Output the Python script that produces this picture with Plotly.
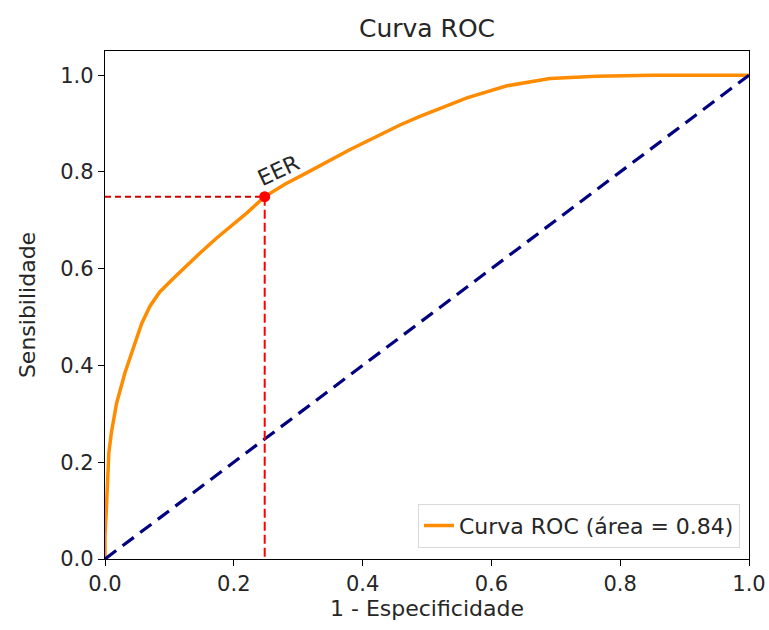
import plotly.graph_objects as go

# ROC curve
fpr = [0.0, 0.0, 0.002, 0.004, 0.006, 0.010, 0.018, 0.031, 0.044, 0.057, 0.070, 0.085,
       0.106, 0.127, 0.148, 0.173, 0.191, 0.220, 0.248, 0.280, 0.313, 0.380, 0.458,
       0.489, 0.562, 0.624, 0.691, 0.763, 0.85, 0.93, 1.0]
tpr = [0.0, 0.05, 0.10, 0.17, 0.22, 0.262, 0.322, 0.385, 0.439, 0.487, 0.523, 0.552,
       0.580, 0.607, 0.633, 0.663, 0.683, 0.715, 0.749, 0.775, 0.798, 0.846, 0.897,
       0.915, 0.953, 0.978, 0.993, 0.998, 1.0, 1.0, 1.0]
diag_x = [0.0, 1.0]
diag_y = [0.0, 1.0]
eer_x = 0.248
eer_y = 0.749
roc_auc = 0.84

title_text = "Curva ROC"
x_label = "1 - Especificidade"
y_label = "Sensibilidade"
tick_vals = [0.0, 0.2, 0.4, 0.6, 0.8, 1.0]

FONT = "DejaVu Sans"
TXT = "#262626"

fig = go.Figure()
fig.add_trace(go.Scatter(x=fpr, y=tpr, mode="lines",
                         line=dict(color="darkorange", width=3.5),
                         name=f"Curva ROC (área = {roc_auc:.2f})"))
fig.add_trace(go.Scatter(x=diag_x, y=diag_y, mode="lines",
                         line=dict(color="navy", width=3.2, dash="14px,8px"),
                         showlegend=False))
fig.add_trace(go.Scatter(x=[0, eer_x], y=[eer_y, eer_y], mode="lines",
                         line=dict(color="#d40000", width=2, dash="6px,4px"),
                         showlegend=False))
fig.add_trace(go.Scatter(x=[eer_x, eer_x], y=[eer_y, 0], mode="lines",
                         line=dict(color="red", width=2, dash="9px,4px"),
                         showlegend=False))
fig.add_trace(go.Scatter(x=[eer_x], y=[eer_y], mode="markers",
                         marker=dict(color="red", size=11),
                         showlegend=False))
fig.add_annotation(x=eer_x, y=eer_y, text="EER", showarrow=False,
                   textangle=-25, xanchor="center", yanchor="middle",
                   xshift=14, yshift=26,
                   font=dict(family=FONT, size=22, color=TXT))

axis_common = dict(showline=True, linecolor="black", linewidth=1.3, mirror=True,
                   ticks="outside", ticklen=6, tickcolor="black", tickwidth=1.2,
                   showgrid=False, zeroline=False, automargin=False,
                   tickvals=tick_vals, tickformat=".1f",
                   tickfont=dict(family=FONT, size=21, color=TXT))

fig.update_layout(
    width=769, height=630,
    margin=dict(l=105, r=20, t=51, b=71),
    paper_bgcolor="white", plot_bgcolor="white",
    title=dict(text=title_text, x=0.5, xref="paper", xanchor="center",
               y=0.955, yref="container", yanchor="middle",
               font=dict(family=FONT, size=25, color=TXT)),
    xaxis=dict(range=[0, 1.0], title=dict(text=x_label, standoff=0,
               font=dict(family=FONT, size=22, color=TXT)), **axis_common),
    yaxis=dict(range=[0, 1.05], title=dict(text=y_label, standoff=18,
               font=dict(family=FONT, size=22, color=TXT)), **axis_common),
    legend=dict(x=0.986, y=0.022, xanchor="right", yanchor="bottom",
                bgcolor="white", bordercolor="#d9d9d9", borderwidth=1,
                font=dict(family=FONT, size=22, color=TXT)),
    showlegend=True,
)

fig.write_html("out.html",
               config={"displayModeBar": False},
               post_script="document.body.style.margin='0';document.body.style.overflow='hidden';")
